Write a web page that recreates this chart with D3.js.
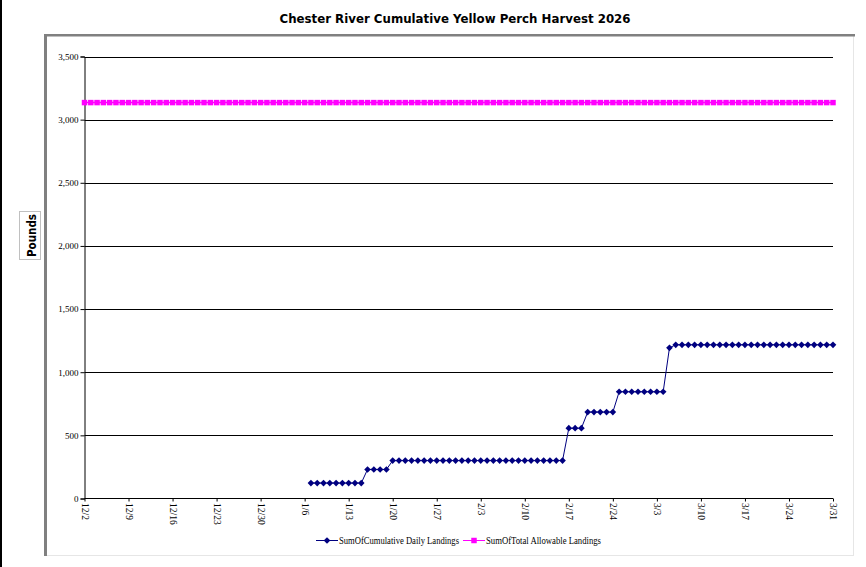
<!DOCTYPE html>
<html>
<head>
<meta charset="utf-8">
<script src="https://cdn.jsdelivr.net/npm/d3@7/dist/d3.min.js"></script>
<style>
  html, body { margin: 0; padding: 0; background: #fff; }
  svg { display: block; }
</style>
</head>
<body>
<div id="container"></div>
<script>
// days on the category axis, 12/2 through 3/31
const days = [
  "12/2","12/3","12/4","12/5","12/6","12/7","12/8","12/9","12/10","12/11",
  "12/12","12/13","12/14","12/15","12/16","12/17","12/18","12/19","12/20","12/21",
  "12/22","12/23","12/24","12/25","12/26","12/27","12/28","12/29","12/30","12/31",
  "1/1","1/2","1/3","1/4","1/5","1/6","1/7","1/8","1/9","1/10",
  "1/11","1/12","1/13","1/14","1/15","1/16","1/17","1/18","1/19","1/20",
  "1/21","1/22","1/23","1/24","1/25","1/26","1/27","1/28","1/29","1/30",
  "1/31","2/1","2/2","2/3","2/4","2/5","2/6","2/7","2/8","2/9",
  "2/10","2/11","2/12","2/13","2/14","2/15","2/16","2/17","2/18","2/19",
  "2/20","2/21","2/22","2/23","2/24","2/25","2/26","2/27","2/28","3/1",
  "3/2","3/3","3/4","3/5","3/6","3/7","3/8","3/9","3/10","3/11",
  "3/12","3/13","3/14","3/15","3/16","3/17","3/18","3/19","3/20","3/21",
  "3/22","3/23","3/24","3/25","3/26","3/27","3/28","3/29","3/30","3/31"
];

// SumOfCumulative Daily Landings (null = no record that day)
const cumulativeLandings = [
  null,null,null,null,null,null,null,null,null,null,
  null,null,null,null,null,null,null,null,null,null,
  null,null,null,null,null,null,null,null,null,null,
  null,null,null,null,null,null,122,122,122,122,
  122,122,122,122,122,230,230,230,230,300,
  300,300,300,300,300,300,300,300,300,300,
  300,300,300,300,300,300,300,300,300,300,
  300,300,300,300,300,300,300,557,557,557,
  684,684,684,684,684,845,845,845,845,845,
  845,845,845,1193,1217,1217,1217,1217,1217,1217,
  1217,1217,1217,1217,1217,1217,1217,1217,1217,1217,
  1217,1217,1217,1217,1217,1217,1217,1217,1217,1217
];

// SumOfTotal Allowable Landings
const totalAllowable = [
  3135,3135,3135,3135,3135,3135,3135,3135,3135,3135,
  3135,3135,3135,3135,3135,3135,3135,3135,3135,3135,
  3135,3135,3135,3135,3135,3135,3135,3135,3135,3135,
  3135,3135,3135,3135,3135,3135,3135,3135,3135,3135,
  3135,3135,3135,3135,3135,3135,3135,3135,3135,3135,
  3135,3135,3135,3135,3135,3135,3135,3135,3135,3135,
  3135,3135,3135,3135,3135,3135,3135,3135,3135,3135,
  3135,3135,3135,3135,3135,3135,3135,3135,3135,3135,
  3135,3135,3135,3135,3135,3135,3135,3135,3135,3135,
  3135,3135,3135,3135,3135,3135,3135,3135,3135,3135,
  3135,3135,3135,3135,3135,3135,3135,3135,3135,3135,
  3135,3135,3135,3135,3135,3135,3135,3135,3135,3135
];

const xTickLabels = ["12/2","12/9","12/16","12/23","12/30","1/6","1/13","1/20","1/27",
                     "2/3","2/10","2/17","2/24","3/3","3/10","3/17","3/24","3/31"];
const yTickValues = [0, 500, 1000, 1500, 2000, 2500, 3000, 3500];

const seriesNames = ["SumOfCumulative Daily Landings", "SumOfTotal Allowable Landings"];

const width = 866, height = 567;
const serif = "'Liberation Serif', 'Times New Roman', serif";
const sans = "Tahoma, 'DejaVu Sans', sans-serif";

// "12/2" -> Date (Dec belongs to 2025, the rest to 2026)
function parseDay(s) {
    const [m, d] = s.split("/").map(Number);
    return new Date(Date.UTC(m === 12 ? 2025 : 2026, m - 1, d));
}

const svg = d3.select("#container").append("svg")
    .attr("width", width)
    .attr("height", height);

// outer window edge and chart frame
svg.append("rect").attr("x", 0).attr("y", 0).attr("width", 2).attr("height", height).attr("fill", "#000");
svg.append("line").attr("x1", 853.5).attr("y1", 36).attr("x2", 853.5).attr("y2", 555)
    .attr("stroke", "#e6e6e6").attr("stroke-width", 1);
svg.append("line").attr("x1", 46).attr("y1", 555.5).attr("x2", 854).attr("y2", 555.5)
    .attr("stroke", "#e6e6e6").attr("stroke-width", 1);
svg.append("rect").attr("x", 44).attr("y", 34).attr("width", 811).attr("height", 2.5).attr("fill", "#808080");
svg.append("rect").attr("x", 44).attr("y", 34).attr("width", 3).attr("height", 522).attr("fill", "#808080");

// title
svg.append("text")
    .attr("x", 455).attr("y", 23)
    .attr("text-anchor", "middle")
    .attr("textLength", 351).attr("lengthAdjust", "spacingAndGlyphs")
    .style("font-family", sans).style("font-weight", "bold").style("font-size", "13px")
    .text("Chester River Cumulative Yellow Perch Harvest 2026");

// y axis title in a box
svg.append("rect").attr("x", 19.5).attr("y", 211.5).attr("width", 21).attr("height", 48)
    .attr("fill", "#fff").attr("stroke", "#c0c0c0");
svg.append("text")
    .attr("transform", "translate(35.5,235.5) rotate(-90)")
    .attr("text-anchor", "middle")
    .attr("textLength", 43).attr("lengthAdjust", "spacingAndGlyphs")
    .style("font-family", sans).style("font-weight", "bold").style("font-size", "12px")
    .text("Pounds");

const x = d3.scaleUtc()
    .domain([parseDay(days[0]), parseDay(days[days.length - 1])])
    .range([84.5, 833]);

const y = d3.scaleLinear()
    .domain([0, 3500])
    .range([498.5, 56.5]);

// horizontal gridlines
svg.append("g")
    .selectAll("line")
    .data(yTickValues.filter(v => v > 0))
    .join("line")
    .attr("x1", x.range()[0]).attr("x2", x.range()[1])
    .attr("y1", d => Math.round(y(d)) + 0.5).attr("y2", d => Math.round(y(d)) + 0.5)
    .attr("stroke", "#000").attr("stroke-width", 1);

// y axis
const yAxis = svg.append("g")
    .attr("transform", `translate(${x.range()[0]},0)`)
    .call(d3.axisLeft(y).tickValues(yTickValues).tickSize(4).tickPadding(2)
        .tickFormat(d3.format(",")));
yAxis.selectAll("line, path").attr("stroke", "#000");
yAxis.selectAll("text")
    .style("font-family", serif).style("font-size", "9px").attr("fill", "#000");

// x axis
const xAxis = svg.append("g")
    .attr("transform", `translate(0,${y(0)})`)
    .call(d3.axisBottom(x).tickValues(xTickLabels.map(parseDay)).tickSize(3)
        .tickFormat((d, i) => xTickLabels[i]));
xAxis.select("path").attr("d", `M${x.range()[0]},0H${x.range()[1]}`).attr("stroke", "#000");
xAxis.selectAll("line").attr("stroke", "#000");
xAxis.selectAll("text")
    .attr("transform", "rotate(90)")
    .attr("x", 4.5).attr("y", 0).attr("dy", "0.32em")
    .attr("text-anchor", "start")
    .style("font-family", serif).style("font-size", "9.5px").attr("fill", "#000");

const navy = "#000080", magenta = "#ff00ff";

// total allowable series: thin line + square markers
const allowPts = days.map((d, i) => ({ date: parseDay(d), v: totalAllowable[i] }));
svg.append("path")
    .datum(allowPts)
    .attr("fill", "none").attr("stroke", magenta).attr("stroke-width", 1.5)
    .attr("d", d3.line().x(d => x(d.date)).y(d => y(d.v)));
svg.append("g")
    .selectAll("path")
    .data(allowPts)
    .join("path")
    .attr("transform", d => `translate(${x(d.date)},${y(d.v)})`)
    .attr("d", d3.symbol(d3.symbolSquare, 30))
    .attr("fill", magenta);

// cumulative landings series: line + diamond markers
const landPts = days.map((d, i) => ({ date: parseDay(d), v: cumulativeLandings[i] }))
    .filter(d => d.v !== null);
svg.append("path")
    .datum(landPts)
    .attr("fill", "none").attr("stroke", navy).attr("stroke-width", 1)
    .attr("d", d3.line().x(d => x(d.date)).y(d => y(d.v)));
svg.append("g")
    .selectAll("path")
    .data(landPts)
    .join("path")
    .attr("transform", d => `translate(${x(d.date)},${y(d.v)}) rotate(45)`)
    .attr("d", d3.symbol(d3.symbolSquare, 22))
    .attr("fill", navy);

// legend
const legend = [
    { name: seriesNames[0], color: navy, x0: 316, shape: "diamond", len: 120 },
    { name: seriesNames[1], color: magenta, x0: 463, shape: "square", len: 115 }
];
const lg = svg.append("g").selectAll("g").data(legend).join("g")
    .attr("transform", d => `translate(${d.x0},540)`);
lg.append("line").attr("x1", 0).attr("x2", 22).attr("y1", 0.5).attr("y2", 0.5)
    .attr("stroke", d => d.color).attr("stroke-width", 1);
lg.append("path")
    .attr("transform", d => d.shape === "diamond" ? "translate(11,0.5) rotate(45)" : "translate(11,0.5)")
    .attr("d", d => d3.symbol(d3.symbolSquare, d.shape === "diamond" ? 22 : 30)())
    .attr("fill", d => d.color);
lg.append("text")
    .attr("x", 23).attr("y", 3.5)
    .attr("textLength", d => d.len).attr("lengthAdjust", "spacingAndGlyphs")
    .style("font-family", serif).style("font-size", "9.5px").attr("fill", "#000")
    .text(d => d.name);
</script>
</body>
</html>
